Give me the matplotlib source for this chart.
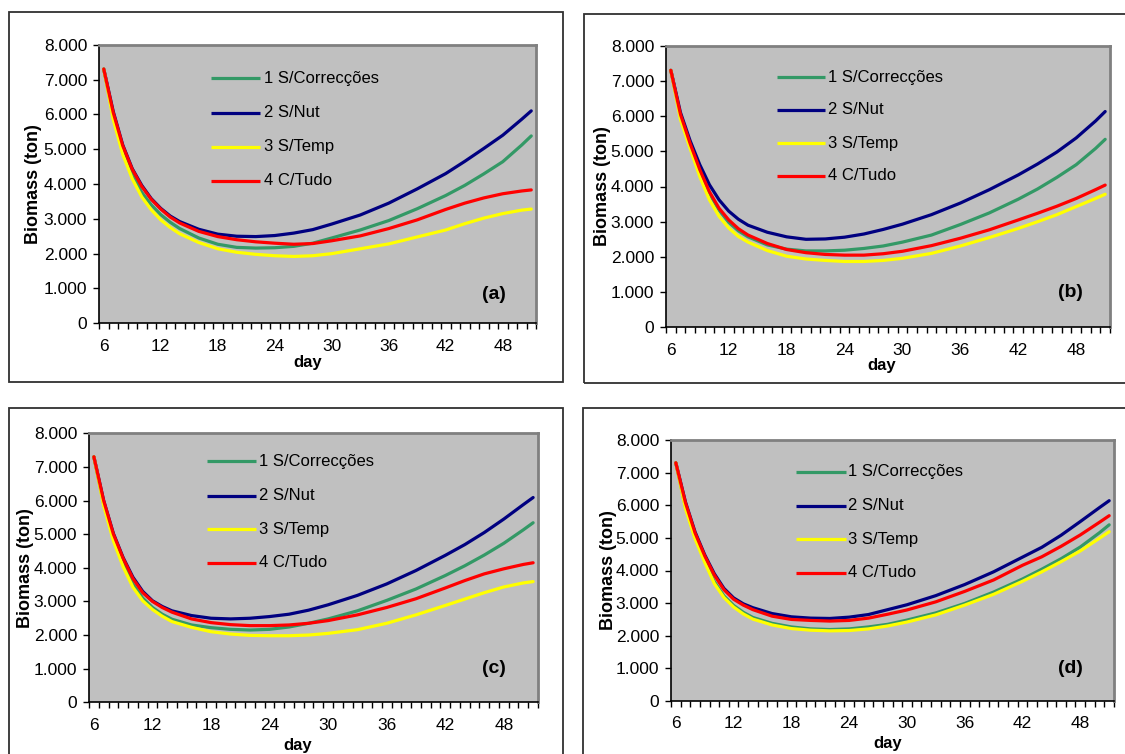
import numpy as np
import matplotlib
matplotlib.use("Agg")
import matplotlib.pyplot as plt
from matplotlib.patches import Rectangle
from matplotlib.ticker import FuncFormatter

plt.rcParams['font.family'] = ['Liberation Sans Narrow', 'Liberation Sans', 'DejaVu Sans']

# simulation days and biomass (tonnes) for each scenario
days = [6, 7, 8, 9, 10, 11, 12, 13, 14, 16, 18, 20, 22, 24, 26, 28, 30, 33, 36, 39, 42, 44, 46, 48, 50, 51]
series_names = ['1 S/Correcções', '2 S/Nut', '3 S/Temp', '4 C/Tudo']
series_colors = ['#339966', '#000080', '#FFFF00', '#FF0000']

green_a = [7300, 5950, 4980, 4280, 3760, 3400, 3120, 2900, 2720, 2450, 2270, 2180, 2160, 2170, 2210, 2300, 2450, 2680, 2950, 3290, 3670, 3960, 4290, 4640, 5120, 5380]
blue_a = [7300, 6080, 5120, 4440, 3960, 3580, 3300, 3080, 2920, 2700, 2560, 2500, 2490, 2520, 2590, 2690, 2850, 3110, 3450, 3860, 4300, 4650, 5020, 5400, 5860, 6100]
yellow_a = [7300, 5850, 4850, 4150, 3630, 3260, 2970, 2750, 2570, 2320, 2140, 2040, 1980, 1940, 1920, 1940, 2000, 2140, 2280, 2480, 2680, 2860, 3020, 3150, 3250, 3280]
red_a = [7300, 6050, 5100, 4420, 3930, 3560, 3280, 3050, 2880, 2640, 2490, 2400, 2340, 2300, 2270, 2290, 2370, 2510, 2720, 2970, 3270, 3450, 3600, 3720, 3800, 3830]

green_b = [7300, 6000, 5180, 4420, 3800, 3330, 2980, 2740, 2570, 2340, 2220, 2170, 2170, 2190, 2240, 2310, 2420, 2620, 2920, 3250, 3640, 3930, 4260, 4620, 5080, 5340]
blue_b = [7300, 6100, 5300, 4620, 4050, 3620, 3300, 3070, 2900, 2700, 2570, 2500, 2510, 2560, 2650, 2780, 2930, 3200, 3530, 3910, 4330, 4640, 4980, 5380, 5860, 6130]
yellow_b = [7300, 5900, 5080, 4280, 3620, 3150, 2820, 2580, 2420, 2180, 2020, 1940, 1900, 1870, 1870, 1900, 1960, 2100, 2310, 2550, 2810, 3000, 3200, 3430, 3660, 3780]
red_b = [7300, 6050, 5220, 4480, 3850, 3380, 3050, 2800, 2620, 2380, 2210, 2120, 2070, 2050, 2050, 2090, 2160, 2320, 2530, 2770, 3050, 3240, 3440, 3660, 3910, 4040]

green_c = [7300, 5900, 4900, 4150, 3520, 3100, 2820, 2620, 2470, 2300, 2220, 2170, 2150, 2170, 2240, 2350, 2480, 2720, 3030, 3370, 3770, 4060, 4380, 4730, 5130, 5340]
blue_c = [7300, 6000, 5020, 4300, 3720, 3300, 3020, 2850, 2720, 2580, 2500, 2480, 2500, 2550, 2620, 2740, 2900, 3180, 3520, 3920, 4370, 4690, 5050, 5450, 5880, 6090]
yellow_c = [7300, 5850, 4800, 4030, 3420, 3020, 2760, 2560, 2400, 2230, 2100, 2030, 1990, 1980, 1980, 2000, 2050, 2160, 2350, 2600, 2880, 3070, 3260, 3430, 3550, 3590]
red_c = [7300, 6000, 5000, 4280, 3680, 3260, 3000, 2820, 2680, 2480, 2370, 2310, 2280, 2280, 2300, 2350, 2430, 2600, 2820, 3080, 3400, 3620, 3820, 3970, 4100, 4150]

green_d = [7300, 5950, 5020, 4300, 3660, 3220, 2930, 2720, 2560, 2380, 2270, 2210, 2190, 2210, 2270, 2350, 2480, 2700, 2990, 3340, 3740, 4040, 4360, 4720, 5160, 5400]
blue_d = [7300, 6100, 5180, 4480, 3900, 3450, 3160, 2980, 2860, 2680, 2580, 2540, 2530, 2570, 2650, 2800, 2950, 3230, 3570, 3960, 4410, 4710, 5080, 5500, 5930, 6140]
yellow_d = [7300, 5900, 4970, 4250, 3600, 3170, 2880, 2670, 2510, 2330, 2220, 2170, 2150, 2160, 2210, 2300, 2420, 2640, 2940, 3270, 3670, 3960, 4270, 4600, 4990, 5190]
red_d = [7300, 6080, 5150, 4450, 3860, 3410, 3120, 2940, 2800, 2600, 2500, 2470, 2450, 2470, 2540, 2660, 2790, 3040, 3360, 3710, 4160, 4420, 4740, 5090, 5480, 5680]

W, H = 1125, 754
fig = plt.figure(figsize=(W / 100, H / 100), dpi=100)
fig.patch.set_facecolor('white')


def px_box(x0, y0, x1, y1):
    # pixel box (top-left origin) -> figure fraction rect
    return [x0 / W, 1 - y1 / H, (x1 - x0) / W, (y1 - y0) / H]


def thousands(v, pos):
    return f"{int(round(v)):,}".replace(",", ".")


panels = [
    dict(tag='(a)', data=[green_a, blue_a, yellow_a, red_a],
         plot=(99, 44.7, 536, 323.3), frame=(9, 11.7, 563, 382),
         ylab_x=-0.151, day_xy=(0.478, -0.142), tag_xy=(0.903, 0.104),
         leg_x=(0.256, 0.369, 0.377), leg_y=[0.879, 0.756, 0.634, 0.512]),
    dict(tag='(b)', data=[green_b, blue_b, yellow_b, red_b],
         plot=(666, 45.7, 1110, 327.3), frame=(584, 14, 1135, 383),
         ylab_x=-0.144, day_xy=(0.485, -0.134), tag_xy=(0.910, 0.122),
         leg_x=(0.249, 0.359, 0.365), leg_y=[0.888, 0.772, 0.653, 0.538]),
    dict(tag='(c)', data=[green_c, blue_c, yellow_c, red_c],
         plot=(89, 433.3, 538, 702.3), frame=(9, 408, 563, 765),
         ylab_x=-0.1425, day_xy=(0.4655, -0.159), tag_xy=(0.901, 0.1275),
         leg_x=(0.263, 0.373, 0.379), leg_y=[0.897, 0.768, 0.644, 0.519]),
    dict(tag='(d)', data=[green_d, blue_d, yellow_d, red_d],
         plot=(671, 440, 1114, 701), frame=(583, 408, 1135, 765),
         ylab_x=-0.142, day_xy=(0.489, -0.161), tag_xy=(0.9007, 0.126),
         leg_x=(0.283, 0.395, 0.400), leg_y=[0.879, 0.748, 0.619, 0.491]),
]

for p in panels:
    # outer chart border
    fx0, fy0, fx1, fy1 = p['frame']
    fig.add_artist(Rectangle((fx0 / W, 1 - fy1 / H), (fx1 - fx0) / W, (fy1 - fy0) / H,
                             transform=fig.transFigure, fill=False,
                             edgecolor='#303030', linewidth=1.3))

    ax = fig.add_axes(px_box(*p['plot']))
    ax.set_facecolor('#C0C0C0')

    for vals, name, color in zip(p['data'], series_names, series_colors):
        ax.plot(days, vals, color=color, linewidth=2.3,
                solid_capstyle='round', solid_joinstyle='round')

    ax.set_xlim(5.5, 51.5)
    ax.set_ylim(0, 8000)

    ax.set_xticks(range(6, 49, 6))
    ax.set_xticks(np.arange(5.5, 52, 1), minor=True)
    ax.tick_params(axis='x', which='major', length=0, pad=11, labelsize=12.5)
    ax.tick_params(axis='x', which='minor', length=4, width=1, direction='out', color='black')
    ax.set_yticks(range(0, 8001, 1000))
    ax.yaxis.set_major_formatter(FuncFormatter(thousands))
    ax.tick_params(axis='y', length=4, width=1, direction='out', pad=4.5, labelsize=12.5)

    ax.spines['left'].set_color('black')
    ax.spines['bottom'].set_color('black')
    ax.spines['left'].set_linewidth(1.2)
    ax.spines['bottom'].set_linewidth(1.2)
    ax.spines['top'].set_color('#808080')
    ax.spines['right'].set_color('#808080')
    ax.spines['top'].set_linewidth(2)
    ax.spines['right'].set_linewidth(2)

    ax.text(p['ylab_x'], 0.5, 'Biomass (ton)', transform=ax.transAxes, rotation=90,
            ha='center', va='center', fontsize=13, fontweight='bold',
            family=['Liberation Sans', 'DejaVu Sans'])
    ax.text(*p['day_xy'], 'day', transform=ax.transAxes, ha='center', va='center',
            fontsize=12, fontweight='bold')
    ax.text(*p['tag_xy'], p['tag'], transform=ax.transAxes, ha='center', va='center',
            fontsize=14, fontweight='bold', family=['Liberation Sans', 'DejaVu Sans'])

    # legend entries
    lx0, lx1, tx = p['leg_x']
    for name, color, ly in zip(series_names, series_colors, p['leg_y']):
        ax.plot([lx0, lx1], [ly, ly], transform=ax.transAxes, color=color,
                linewidth=2.3, solid_capstyle='butt')
        ax.text(tx, ly, name, transform=ax.transAxes, ha='left', va='center',
                fontsize=12)

fig.savefig('out.png', dpi=100)
